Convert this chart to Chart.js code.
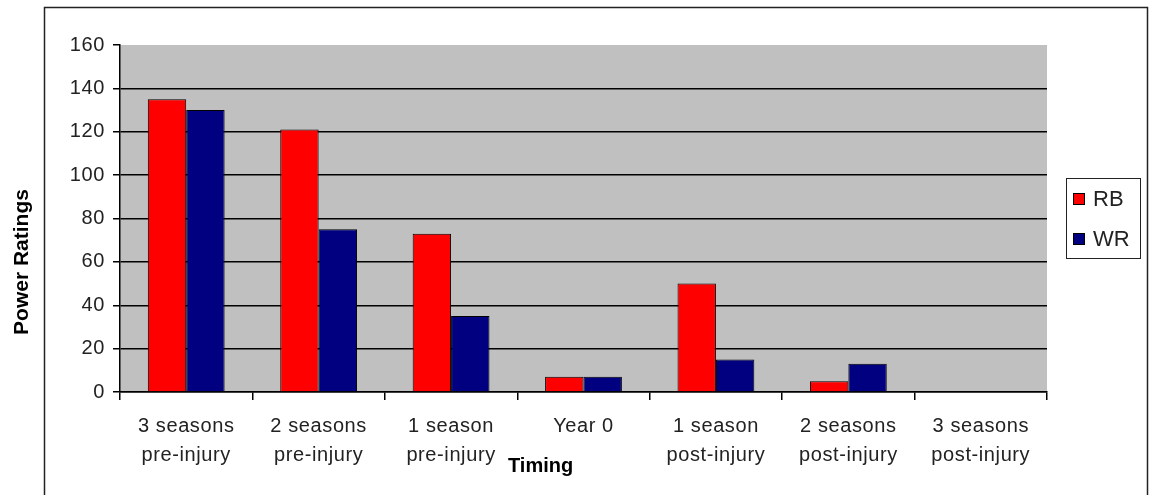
<!DOCTYPE html>
<html>
<head>
<meta charset="utf-8">
<script src="https://cdn.jsdelivr.net/npm/chart.js@4/dist/chart.umd.min.js"></script>
<style>
  html, body { margin:0; padding:0; background:#fff; }
  #wrap { position:relative; width:1149px; height:495px; }
</style>
</head>
<body>
<div id="wrap"><canvas id="c" width="1149" height="495"></canvas></div>
<script>
const categories = [
  ['3 seasons', 'pre-injury'],
  ['2 seasons', 'pre-injury'],
  ['1 season', 'pre-injury'],
  ['Year 0', ''],
  ['1 season', 'post-injury'],
  ['2 seasons', 'post-injury'],
  ['3 seasons', 'post-injury']
];
const rbValues = [135, 121, 73, 7, 50, 5, 0];
const wrValues = [130, 75, 35, 7, 15, 13, 0];
const yTicks = [0, 20, 40, 60, 80, 100, 120, 140, 160];

const FONT = '"Liberation Sans", Arial, sans-serif';

const frameAndBg = {
  id: 'frameAndBg',
  beforeDraw(chart) {
    const { ctx, chartArea: a } = chart;
    ctx.letterSpacing = '0.6px';
    ctx.save();
    ctx.fillStyle = '#fff';
    ctx.fillRect(0, 0, chart.width, chart.height);
    ctx.strokeStyle = '#222';
    ctx.lineWidth = 1.5;
    ctx.strokeRect(44.5, 7.5, 1103, 495);
    ctx.fillStyle = '#c0c0c0';
    ctx.fillRect(a.left, a.top, a.right - a.left, a.bottom - a.top);
    ctx.restore();
  },
  afterDraw(chart) {
    const { ctx } = chart;
    ctx.save();
    ctx.letterSpacing = '0px';
    ctx.fillStyle = '#000';
    ctx.textBaseline = 'middle';
    // x axis title
    ctx.font = 'bold 20px ' + FONT;
    ctx.textAlign = 'left';
    ctx.fillText('Timing', 508, 466);
    // y axis title
    ctx.save();
    ctx.translate(22, 262);
    ctx.rotate(-Math.PI / 2);
    ctx.textAlign = 'center';
    ctx.font = 'bold 21px ' + FONT;
    ctx.fillText('Power Ratings', 0, 0);
    ctx.restore();
    // legend
    const lx = 1066, ly = 178, lw = 74, lh = 80;
    ctx.fillStyle = '#fff';
    ctx.fillRect(lx, ly, lw, lh);
    ctx.strokeStyle = '#222';
    ctx.lineWidth = 1;
    ctx.strokeRect(lx + 0.5, ly + 0.5, lw, lh);
    chart.data.datasets.forEach((ds, i) => {
      const y = ly + 21 + i * 40;
      ctx.fillStyle = ds.backgroundColor;
      ctx.fillRect(lx + 7, y - 6, 12, 12);
      ctx.strokeStyle = '#000';
      ctx.strokeRect(lx + 7.5, y - 5.5, 11, 11);
      ctx.fillStyle = '#222';
      ctx.font = '22px ' + FONT;
      ctx.textAlign = 'left';
      ctx.fillText(ds.label, lx + 27, y + 1);
    });
    ctx.restore();
  }
};

new Chart(document.getElementById('c'), {
  type: 'bar',
  data: {
    labels: categories,
    datasets: [
      { label: 'RB', data: rbValues, backgroundColor: '#ff0000', borderColor: '#000', borderWidth: 1 },
      { label: 'WR', data: wrValues, backgroundColor: '#000080', borderColor: '#000', borderWidth: 1 }
    ]
  },
  options: {
    responsive: false,
    animation: false,
    devicePixelRatio: 1,
    layout: { padding: { top: 45, right: 102, bottom: 0, left: 0 } },
    plugins: { legend: { display: false }, tooltip: { enabled: false } },
    datasets: { bar: { categoryPercentage: 0.58, barPercentage: 1.0 } },
    scales: {
      x: {
        offset: true,
        grid: { offset: true, drawOnChartArea: false, drawTicks: true, tickLength: 8, color: '#000', lineWidth: 1.5 },
        border: { color: '#000', width: 1.5 },
        ticks: { color: '#222', font: { family: FONT, size: 20, lineHeight: 1.45 }, padding: 12, maxRotation: 0, autoSkip: false },
        afterFit(s) { s.height = 103; }
      },
      y: {
        min: 0, max: 160,
        afterBuildTicks(s) { s.ticks = yTicks.map(v => ({ value: v })); },
        grid: {
          color: c => c.tick && c.tick.value === 160 ? 'rgba(0,0,0,0)' : '#000',
          lineWidth: 1.5, tickLength: 7, tickColor: '#000'
        },
        border: { color: '#000', width: 1.5 },
        ticks: { color: '#222', font: { family: FONT, size: 20 }, padding: 8 },
        afterFit(s) { s.width = 120; }
      }
    }
  },
  plugins: [frameAndBg]
});
</script>
</body>
</html>
